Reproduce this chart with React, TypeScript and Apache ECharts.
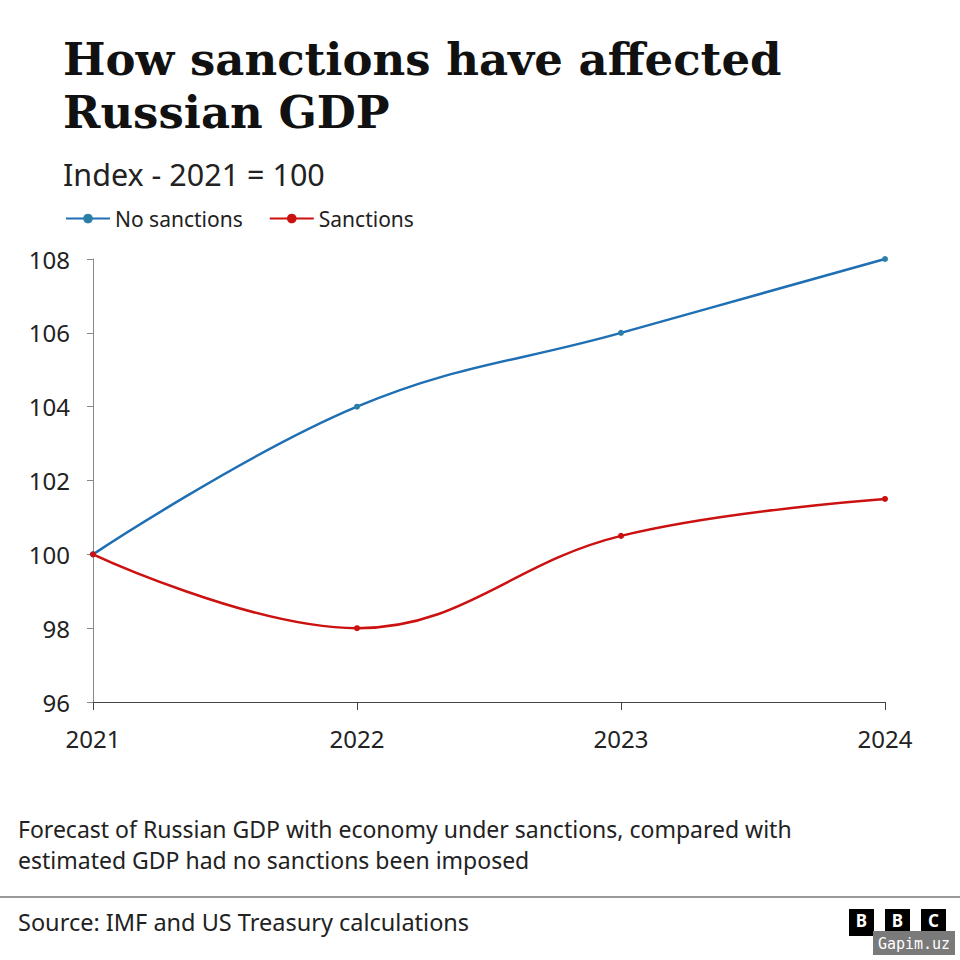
import React, { useEffect, useRef } from "react";
import * as echarts from "echarts";

const years = ["2021", "2022", "2023", "2024"];
const noSanctions = [100, 104, 106, 108];
const sanctions = [100, 98, 100.5, 101.5];
const yTicks = { min: 96, max: 108, interval: 2 };

const titleLines = ["How sanctions have affected", "Russian GDP"];
const subtitle = "Index - 2021 = 100";
const noteLines = [
  "Forecast of Russian GDP with economy under sanctions, compared with",
  "estimated GDP had no sanctions been imposed",
];
const source = "Source: IMF and US Treasury calculations";

const SANS = "'Noto Sans', 'Open Sans', sans-serif";
const SERIF = "'DejaVu Serif', 'Liberation Serif', serif";
const BLUE = "#1f6fb4";
const RED = "#cc1111";

export default function App() {
  const ref = useRef<HTMLDivElement>(null);

  useEffect(() => {
    if (!ref.current) return;
    const chart = echarts.init(ref.current, undefined, { renderer: "svg" });

    const bbcBox = (x: number, letter: string) => ({
      type: "group",
      children: [
        { type: "rect", shape: { x, y: 909, width: 25, height: 27 }, style: { fill: "#000" } },
        {
          type: "text",
          x: x + 12.5,
          y: 920.5,
          style: {
            text: letter,
            fill: "#fff",
            font: `bold 17px ${SANS}`,
            align: "center",
            verticalAlign: "middle",
          },
        },
      ],
    });

    chart.setOption({
      animation: false,
      backgroundColor: "#ffffff",
      legend: {
        left: 60,
        top: 203,
        itemWidth: 44,
        itemHeight: 12,
        itemGap: 26,
        textStyle: { fontFamily: SANS, fontSize: 21, color: "#222" },
        data: ["No sanctions", "Sanctions"],
      },
      grid: { left: 93, right: 75, top: 259, bottom: 258 },
      xAxis: {
        type: "category",
        data: years,
        boundaryGap: false,
        axisLine: { lineStyle: { color: "#444", width: 1 } },
        axisTick: { show: true, length: 8, lineStyle: { color: "#444" } },
        axisLabel: { fontFamily: SANS, fontSize: 24, color: "#222", margin: 24 },
        splitLine: { show: false },
      },
      yAxis: {
        type: "value",
        min: yTicks.min,
        max: yTicks.max,
        interval: yTicks.interval,
        axisLine: { show: true, lineStyle: { color: "#888", width: 1 } },
        axisTick: { show: true, length: 6, lineStyle: { color: "#888" } },
        axisLabel: { fontFamily: SANS, fontSize: 24, color: "#222", margin: 23 },
        splitLine: { show: false },
      },
      series: [
        {
          name: "No sanctions",
          type: "line",
          data: noSanctions,
          smooth: 0.4,
          symbol: "circle",
          symbolSize: 6,
          lineStyle: { color: BLUE, width: 2.5 },
          itemStyle: { color: "#2a7fa8" },
        },
        {
          name: "Sanctions",
          type: "line",
          data: sanctions,
          smooth: 0.4,
          symbol: "circle",
          symbolSize: 6,
          lineStyle: { color: RED, width: 2.5 },
          itemStyle: { color: RED },
        },
      ],
      graphic: [
        {
          type: "text",
          left: 63,
          top: 33,
          style: {
            text: titleLines.join("\n"),
            font: `bold 45px ${SERIF}`,
            lineHeight: 53,
            fill: "#111",
          },
        },
        {
          type: "text",
          left: 63,
          top: 158,
          style: { text: subtitle, font: `30.5px ${SANS}`, fill: "#222" },
        },
        {
          type: "text",
          left: 18,
          top: 813,
          style: {
            text: noteLines.join("\n"),
            font: `23px ${SANS}`,
            lineHeight: 31,
            fill: "#222",
          },
        },
        {
          type: "line",
          shape: { x1: 0, y1: 897, x2: 960, y2: 897 },
          style: { stroke: "#777", lineWidth: 1.5 },
        },
        {
          type: "text",
          left: 18,
          top: 910,
          style: { text: source, font: `23.5px ${SANS}`, fill: "#222" },
        },
        bbcBox(849, "B"),
        bbcBox(885, "B"),
        bbcBox(921, "C"),
        { type: "rect", shape: { x: 873, y: 931, width: 82, height: 24 }, style: { fill: "#7a7a7a" } },
        {
          type: "text",
          x: 914,
          y: 944,
          style: {
            text: "Gapim.uz",
            font: `15px 'DejaVu Sans Mono', monospace`,
            fill: "#fff",
            align: "center",
            verticalAlign: "middle",
          },
        },
      ],
    });

    return () => chart.dispose();
  }, []);

  return (
    <div
      ref={ref}
      style={{ position: "fixed", left: 0, top: 0, width: 960, height: 960 }}
    />
  );
}
